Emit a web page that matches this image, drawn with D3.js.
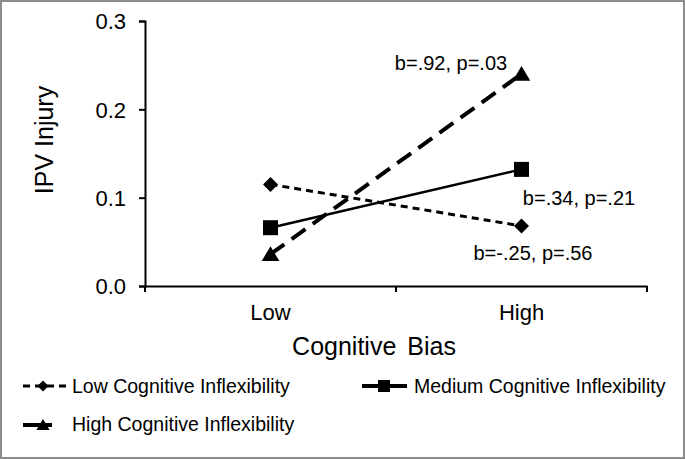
<!DOCTYPE html>
<html><head><meta charset="utf-8">
<script src="https://cdn.jsdelivr.net/npm/d3@7"></script>
<style>body{margin:0;background:#fff}svg{display:block;font-family:"Liberation Sans",Arial,sans-serif}</style>
</head><body><svg id="c" width="685" height="459"></svg>
<script>
const categories = ["Low", "High"];
const seriesNames = ["Low Cognitive Inflexibility", "Medium Cognitive Inflexibility", "High Cognitive Inflexibility"];
const lowValues = [0.115, 0.068];
const mediumValues = [0.066, 0.132];
const highValues = [0.036, 0.240];
const annotations = ["b=-.25, p=.56", "b=.34, p=.21", "b=.92, p=.03"];
const yTicks = [0.0, 0.1, 0.2, 0.3];

const FF = "Liberation Sans, Arial, sans-serif";
const svg = d3.select("#c");
svg.append("rect").attr("x",1).attr("y",1).attr("width",683).attr("height",457).attr("fill","#fff").attr("stroke","#8c8c8c").attr("stroke-width",2);

const x = d3.scaleBand().domain(categories).range([145, 647]);
const y = d3.scaleLinear().domain([0, 0.3]).range([286, 21]);

const yAxis = svg.append("g").attr("transform","translate(145,0)")
  .call(d3.axisLeft(y).tickValues(yTicks).tickFormat(d3.format(".1f")).tickSizeOuter(0).tickSize(6));
yAxis.select(".domain").attr("stroke","#000").attr("stroke-width",2);
yAxis.selectAll(".tick line").attr("stroke-width",2);
yAxis.selectAll("text").attr("font-size",22).attr("font-family",FF).attr("fill","#000").attr("x",-19).attr("dy","0.36em");

const xAxis = svg.append("g").attr("transform","translate(0,286)")
  .call(d3.axisBottom(x).tickSize(0).tickSizeOuter(0));
xAxis.select(".domain").attr("stroke","#000").attr("stroke-width",2);
xAxis.selectAll("text").attr("font-size",22).attr("font-family",FF).attr("fill","#000").attr("dy","0").attr("y",34);
const edges = [x.range()[0], x(categories[1]), x.range()[1]];
svg.append("g").selectAll("line").data(edges).join("line")
  .attr("x1",d=>d).attr("x2",d=>d).attr("y1",286).attr("y2",292).attr("stroke","#000").attr("stroke-width",2);

svg.append("text").attr("transform","translate(53,140) rotate(-90)").attr("text-anchor","middle")
  .attr("font-size",25).text("IPV Injury");
svg.append("text").attr("x",374).attr("y",355).attr("text-anchor","middle").attr("font-size",25)
  .attr("word-spacing",4).text("Cognitive Bias");

const cx = c => x(c) + x.bandwidth()/2;
const line = d3.line().x((d,i)=>cx(categories[i])).y(d=>y(d));
function marker(sym, s){
  if(sym==="diamond") return `M0,${-s}L${s},0L0,${s}L${-s},0Z`;
  if(sym==="square") return `M${-s},${-s}H${s}V${s}H${-s}Z`;
  return `M0,${-s}L${s*1.1},${s*0.85}L${-s*1.1},${s*0.85}Z`;
}
const styles = [
  {vals: lowValues, dash:"7,5", w:3, sym:"diamond", ms:7.5},
  {vals: mediumValues, dash:null, w:2.5, sym:"square", ms:7.5},
  {vals: highValues, dash:"17,9", w:4, sym:"triangle", ms:8}
];
styles.forEach(s=>{
  svg.append("path").attr("d", line(s.vals)).attr("fill","none").attr("stroke","#000")
    .attr("stroke-width", s.w).attr("stroke-dasharray", s.dash);
  s.vals.forEach((v,i)=>{
    svg.append("path").attr("d", marker(s.sym, s.ms))
      .attr("transform",`translate(${cx(categories[i])},${y(v)})`).attr("fill","#000");
  });
});

const annPos = [[533, 260], [579, 205], [451, 70]];
annotations.forEach((t,i)=>{
  svg.append("text").attr("x",annPos[i][0]).attr("y",annPos[i][1]).attr("text-anchor","middle")
    .attr("font-size",20).text(t);
});

const leg = [
  {x0:23, x1:68, mx:43, ly:386, ty:393, tx:72, s:styles[0], ms:5.5},
  {x0:362, x1:407, mx:384, ly:386, ty:393, tx:414, s:styles[1], ms:6},
  {x0:23, x1:52, mx:43, ly:425, ty:431, tx:72, s:styles[2], ms:6}
];
leg.forEach((l,i)=>{
  svg.append("line").attr("x1",l.x0).attr("x2",l.x1).attr("y1",l.ly).attr("y2",l.ly)
    .attr("stroke","#000").attr("stroke-width", i===0 ? 3 : 4)
    .attr("stroke-dasharray", i===0 ? "7,5" : null);
  svg.append("path").attr("d", marker(l.s.sym, l.ms))
    .attr("transform",`translate(${l.mx},${l.ly})`).attr("fill","#000");
  svg.append("text").attr("x",l.tx).attr("y",l.ty).attr("font-size",19.5).text(seriesNames[i]);
});
</script></body></html>
